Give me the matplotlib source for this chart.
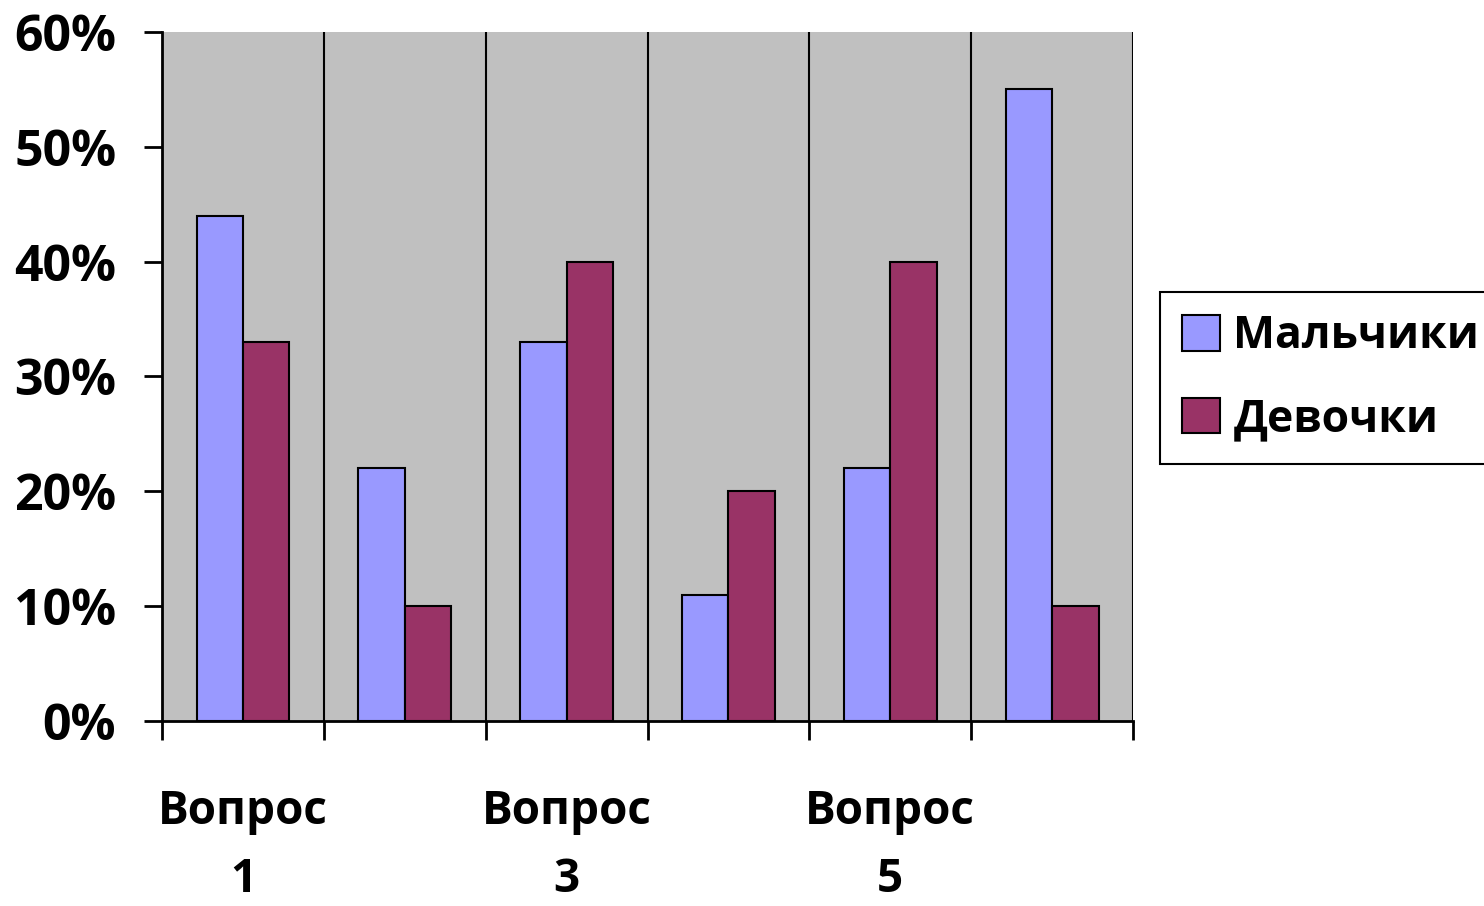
import matplotlib
matplotlib.use('Agg')
import matplotlib.pyplot as plt
import numpy as np

# survey results, percent
questions = ['Вопрос\n1', 'Вопрос\n2', 'Вопрос\n3', 'Вопрос\n4', 'Вопрос\n5', 'Вопрос\n6']
boys = [44, 22, 33, 11, 22, 55]
girls = [33, 10, 40, 20, 40, 10]
series_names = ['Мальчики', 'Девочки']
yticks = [0, 10, 20, 30, 40, 50, 60]

plt.rcParams['font.family'] = ['Open Sans', 'DejaVu Sans']
plt.rcParams['font.weight'] = 'bold'

fig = plt.figure(figsize=(14.84, 9.06), dpi=100)
ax = fig.add_axes([0.1092, 0.2042, 0.6543, 0.7605])
ax.set_facecolor('#C0C0C0')

x = np.arange(len(questions))
w = 0.287
ax.bar(x - w / 2, boys, w, color='#9999FF', edgecolor='black', linewidth=1.5,
       label=series_names[0], zorder=3)
ax.bar(x + w / 2, girls, w, color='#993366', edgecolor='black', linewidth=1.5,
       label=series_names[1], zorder=3)

ax.set_xlim(-0.5, len(questions) - 0.5)
ax.set_ylim(0, 60)

# boundaries between categories: tick marks + vertical grid
bounds = np.arange(len(questions) + 1) - 0.5
ax.set_xticks(bounds)
ax.set_xticklabels([''] * len(bounds))
ax.set_xticks(x[::2], minor=True)
ax.set_xticklabels([questions[i] for i in x[::2]], minor=True, fontsize=33,
                   fontweight='bold', linespacing=1.6)
ax.tick_params(axis='x', which='major', length=14, width=2, direction='out')
ax.tick_params(axis='x', which='minor', length=0, pad=48)
ax.grid(axis='x', which='major', color='black', linewidth=1.5, zorder=1)

ax.set_yticks(yticks)
ax.set_yticklabels([f'{v}%' for v in yticks], fontsize=36, fontweight='bold')
ax.tick_params(axis='y', length=13, width=2, direction='out', pad=20)

for s in ['top', 'right']:
    ax.spines[s].set_visible(False)
for s in ['left', 'bottom']:
    ax.spines[s].set_linewidth(2)

leg = fig.legend(loc='upper left', bbox_to_anchor=(1160 / 1484, (906 - 292) / 906),
                 fancybox=False, shadow=False, framealpha=1, edgecolor='black',
                 prop={'size': 32, 'weight': 'bold'}, handlelength=0.85,
                 handleheight=0.85, handletextpad=0.3, borderpad=0.5,
                 labelspacing=0.85, borderaxespad=0)
leg.get_frame().set_linewidth(1.5)

fig.savefig('out.png', dpi=100)
